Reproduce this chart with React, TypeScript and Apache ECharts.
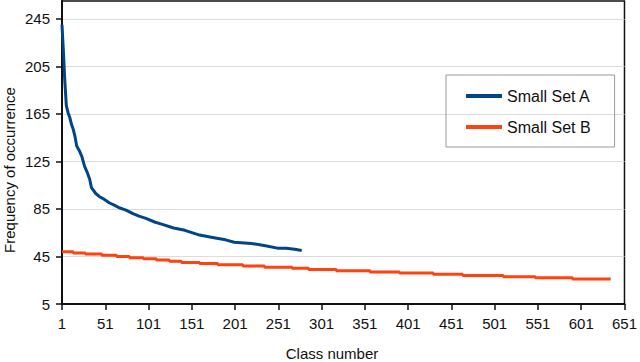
import React, { useEffect, useRef } from "react";
import * as echarts from "echarts";

const xTicks = [1, 51, 101, 151, 201, 251, 301, 351, 401, 451, 501, 551, 601, 651];
const yTicks = [5, 45, 85, 125, 165, 205, 245];

const setAName = "Small Set A";
const setBName = "Small Set B";

// [class number, frequency]
const setA: [number, number][] = [
  [1, 240], [2, 226], [3, 212], [4, 196], [5, 184], [6, 172], [8, 166], [10, 162],
  [12, 156], [14, 152], [16, 146], [18, 138], [21, 134], [24, 129], [27, 121],
  [30, 116], [33, 110], [35, 103], [40, 98], [45, 95], [50, 93], [56, 90], [62, 88],
  [67, 86], [75, 84], [83, 81], [90, 79], [98, 77], [108, 74], [117, 72], [130, 69],
  [143, 67], [160, 63], [175, 61], [190, 59], [200, 57], [220, 56], [236, 54],
  [250, 52], [260, 52], [270, 51], [278, 50],
];

// step starts: [class number, frequency]
const setB: [number, number][] = [
  [1, 49], [14, 48], [28, 47], [47, 46], [64, 45], [79, 44], [95, 43], [110, 42],
  [125, 41], [139, 40], [160, 39], [181, 38], [210, 37], [235, 36], [267, 35],
  [286, 34], [318, 33], [357, 32], [391, 31], [430, 30], [464, 29], [511, 28],
  [548, 27], [591, 26], [635, 26],
];

const FONT = "'Liberation Sans', Arial, sans-serif";

export default function App() {
  const ref = useRef<HTMLDivElement>(null);
  useEffect(() => {
    if (!ref.current) return;
    const chart = echarts.init(ref.current, undefined, { renderer: "svg" });
    chart.setOption({
      animation: false,
      backgroundColor: "#ffffff",
      textStyle: { fontFamily: FONT },
      grid: {
        left: 62,
        right: 13,
        top: 1,
        bottom: 58,
        show: true,
        borderColor: "#111",
        borderWidth: 1.5,
      },
      legend: {
        orient: "vertical",
        left: 446,
        top: 75,
        icon: "rect",
        itemWidth: 36,
        itemHeight: 4,
        itemGap: 15,
        padding: [13, 24, 12, 20],
        borderColor: "#999",
        borderWidth: 1,
        textStyle: { fontSize: 16, color: "#111", fontFamily: FONT, lineHeight: 16 },
        data: [setAName, setBName],
      },
      xAxis: {
        type: "value",
        min: 1,
        max: 651,
        axisLine: { show: true, lineStyle: { color: "#111", width: 2 } },
        axisTick: { show: true, length: 6, customValues: xTicks, lineStyle: { color: "#111", width: 1.5 } },
        axisLabel: { customValues: xTicks, fontSize: 15, color: "#111", margin: 12, fontFamily: FONT },
        splitLine: { show: false },
      },
      yAxis: {
        type: "value",
        min: 5,
        max: 260,
        axisLine: { show: true, lineStyle: { color: "#111", width: 2 } },
        axisTick: { show: true, length: 6, customValues: yTicks, lineStyle: { color: "#111", width: 1.5 } },
        axisLabel: { customValues: yTicks, fontSize: 15, color: "#111", margin: 12, fontFamily: FONT },
        splitLine: { show: true, lineStyle: { color: "#dcdcdc", width: 1 } },
      },
      graphic: [
        {
          type: "text",
          x: 332,
          y: 353,
          style: {
            text: "Class number",
            fontSize: 15,
            fontFamily: FONT,
            fill: "#111",
            align: "center",
            verticalAlign: "middle",
          },
        },
        {
          type: "text",
          x: 9,
          y: 170,
          rotation: Math.PI / 2,
          style: {
            text: "Frequency of occurrence",
            fontSize: 15,
            fontFamily: FONT,
            fill: "#111",
            align: "center",
            verticalAlign: "middle",
          },
        },
      ],
      series: [
        {
          name: setAName,
          type: "line",
          data: setA,
          showSymbol: false,
          symbol: "none",
          color: "#004586",
          lineStyle: { width: 3, color: "#004586" },
          z: 3,
        },
        {
          name: setBName,
          type: "line",
          data: setB,
          step: "end",
          showSymbol: false,
          symbol: "none",
          color: "#ff420e",
          lineStyle: { width: 3, color: "#ff420e" },
          z: 2,
        },
      ],
    });
    return () => chart.dispose();
  }, []);
  return <div ref={ref} style={{ width: 640, height: 362, position: "absolute", left: 0, top: 0 }} />;
}
